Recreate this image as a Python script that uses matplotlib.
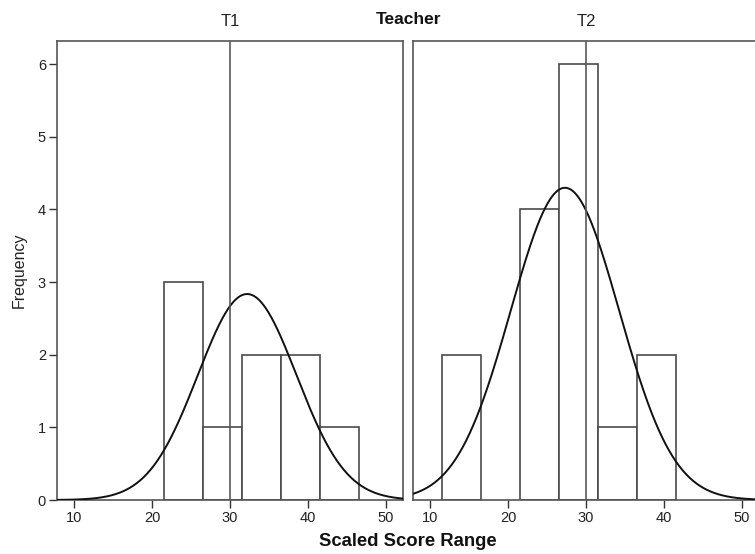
import numpy as np
import matplotlib
matplotlib.use("Agg")
import matplotlib.pyplot as plt

plt.rcParams["font.family"] = ["Liberation Sans", "DejaVu Sans"]

# Histogram bins (width 5) and frequencies for each teacher
t1_edges = [21.5, 26.5, 31.5, 36.5, 41.5, 46.5]
t1_counts = [3, 1, 2, 2, 1]
t2_edges = [11.5, 16.5, 21.5, 26.5, 31.5, 36.5, 41.5]
t2_counts = [2, 0, 4, 6, 1, 2]

# Fitted normal curve parameters
t1_mean, t1_sd = 32.2, 6.33
t2_mean, t2_sd = 27.3, 6.96

ref_score = 30
x_ticks = [10, 20, 30, 40, 50]
y_ticks = [0, 1, 2, 3, 4, 5, 6]
xlim = (7.8, 52.2)
ylim = (0, 6.32)

W, H = 755, 554
fig = plt.figure(figsize=(W / 100, H / 100), dpi=100)

edge_col = "#4a4a4a"
spine_col = "#555555"


def panel(rect, edges, counts, mu, sd, title, show_y):
    ax = fig.add_axes(rect)
    edges = np.asarray(edges)
    widths = np.diff(edges)
    for left, w, c in zip(edges[:-1], widths, counts):
        if c > 0:
            ax.bar(left, c, width=w, align="edge", facecolor="white",
                   edgecolor=edge_col, linewidth=1.2, zorder=2)
    n = sum(counts)
    bw = widths[0]
    xs = np.linspace(xlim[0], xlim[1], 400)
    ys = n * bw / (sd * np.sqrt(2 * np.pi)) * np.exp(-0.5 * ((xs - mu) / sd) ** 2)
    ax.plot(xs, ys, color="#111111", linewidth=1.4, zorder=3)
    ax.axvline(ref_score, color="#5a5a5a", linewidth=1.2, zorder=4)
    ax.set_xlim(*xlim)
    ax.set_ylim(*ylim)
    ax.set_xticks(x_ticks)
    ax.set_yticks(y_ticks)
    ax.tick_params(axis="both", direction="out", length=6, width=1,
                   color="#333333", labelsize=10.5, labelcolor="#222222", pad=2)
    if not show_y:
        ax.tick_params(axis="y", left=False, labelleft=False)
    for s in ax.spines.values():
        s.set_color(spine_col)
        s.set_linewidth(1.2)
    ax.set_title(title, fontsize=12, color="#222222", pad=11)
    return ax


ax1 = panel([57 / W, 54 / H, 346 / W, 459 / H], t1_edges, t1_counts,
            t1_mean, t1_sd, "T1", True)
ax2 = panel([413 / W, 54 / H, 346 / W, 459 / H], t2_edges, t2_counts,
            t2_mean, t2_sd, "T2", False)

ax1.set_ylabel("Frequency", fontsize=11.5, color="#222222", labelpad=8)

fig.text(408 / W, 1 - 20 / H, "Teacher", ha="center", va="center",
         fontsize=12.5, fontweight="bold", color="#111111")
fig.text(408 / W, 1 - 541 / H, "Scaled Score Range", ha="center", va="center",
         fontsize=13.3, fontweight="bold", color="#111111")

fig.savefig("out.png", dpi=100)
